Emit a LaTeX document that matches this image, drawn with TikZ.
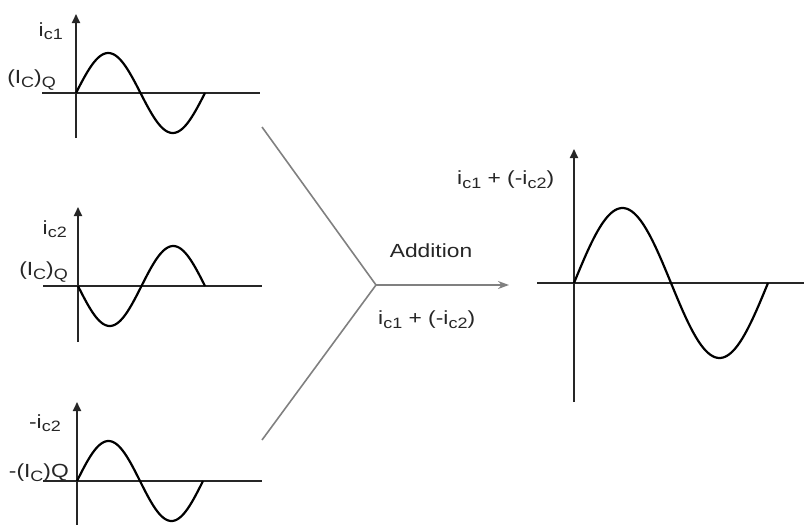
\documentclass[tikz,border=0pt]{standalone}
\usepackage{fontspec}
\setmainfont{Liberation Sans}[FakeStretch=1.2]
\usetikzlibrary{arrows.meta}
\newcommand{\lowtxt}[1]{\raisebox{-0.35ex}{\fontsize{15}{16}\selectfont #1}}
\begin{document}
\begin{tikzpicture}[x=1pt,y=-1pt,
  axis/.style={line width=1.8pt,draw=black!85,-{Triangle[length=9pt,width=8pt]}},
  haxis/.style={line width=1.8pt,draw=black!85},
  wave/.style={line width=2.2pt,black,line join=round},
  lbl/.style={font=\fontsize{19}{21}\selectfont,text=black!85,inner sep=0pt},
  yline/.style={line width=1.6pt,draw=black!50},
  garrow/.style={line width=1.6pt,draw=black!50,-{Stealth[length=11pt,width=8pt]}}]
\useasboundingbox (0,0) rectangle (804,525);
% graph 1
\draw[haxis] (42,93) coordinate (h1a) -- (260,93) coordinate (h1b);
\draw[axis] (76,138) coordinate (v1a) -- (76,14) coordinate (v1b);
\draw[wave] plot[domain=0:360,samples=80] ({76+\x/360*129},{93-40*sin(\x)});
\node[lbl,anchor=east] (l1a) at (63,31) {i\lowtxt{c1}};
\node[lbl,anchor=east] (l1b) at (56,80) {(I\lowtxt{C})\lowtxt{Q}};
% graph 2
\draw[haxis] (43,286) coordinate (h2a) -- (262,286) coordinate (h2b);
\draw[axis] (78,342) coordinate (v2a) -- (78,207) coordinate (v2b);
\draw[wave] plot[domain=0:360,samples=80] ({78+\x/360*127},{286+40*sin(\x)});
\node[lbl,anchor=east] (l2a) at (67,229) {i\lowtxt{c2}};
\node[lbl,anchor=east] (l2b) at (68,272) {(I\lowtxt{C})\lowtxt{Q}};
% graph 3
\draw[haxis] (43,481) coordinate (h3a) -- (262,481) coordinate (h3b);
\draw[axis] (77,528) coordinate (v3a) -- (77,402) coordinate (v3b);
\draw[wave] plot[domain=0:360,samples=80] ({77+\x/360*126},{481-40*sin(\x)});
\node[lbl,anchor=east] (l3a) at (61,423) {-i\lowtxt{c2}};
\node[lbl,anchor=east] (l3b) at (69,473) {-(I\lowtxt{C})Q};
% joining lines
\coordinate (top) at (262,127);
\coordinate (bot) at (262,440);
\coordinate (j) at (376,285);
\coordinate (tip) at (509,285);
\draw[yline] (top) -- (j) -- (bot);
\draw[garrow] (j) -- (tip);
\node[lbl] (add) at (431,251) {Addition};
\node[lbl,anchor=west] (sum) at (378,320) {i\lowtxt{c1} + (-i\lowtxt{c2})};
% result graph
\draw[haxis] (537,283) coordinate (h4a) -- (806,283) coordinate (h4b);
\draw[axis] (574,402) coordinate (v4a) -- (574,149) coordinate (v4b);
\draw[wave] plot[domain=0:360,samples=100] ({574+\x/360*194},{283-75*sin(\x)});
\node[lbl,anchor=west] (l4) at (457,180) {i\lowtxt{c1} + (-i\lowtxt{c2})};
\end{tikzpicture}
\end{document}
